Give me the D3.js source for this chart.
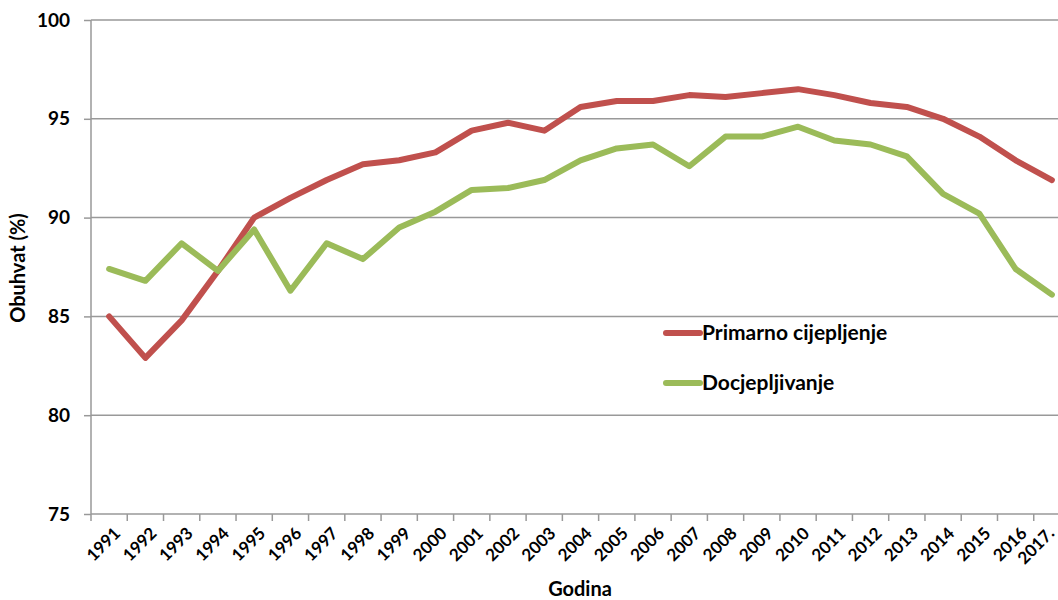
<!DOCTYPE html>
<html>
<head>
<meta charset="utf-8">
<script src="https://cdn.jsdelivr.net/npm/d3@7"></script>
<style>
body { margin: 0; background: #fff; }
text { font-family: Lato, "Open Sans", sans-serif; font-weight: bold; fill: #000; }
</style>
</head>
<body>
<div class="main"></div>
<script>
// data
var years = ["1991","1992","1993","1994","1995","1996","1997","1998","1999","2000",
  "2001","2002","2003","2004","2005","2006","2007","2008","2009","2010",
  "2011","2012","2013","2014","2015","2016","2017."];
var primarno = [85.0, 82.9, 84.8, 87.3, 90.0, 91.0, 91.9, 92.7, 92.9, 93.3,
  94.4, 94.8, 94.4, 95.6, 95.9, 95.9, 96.2, 96.1, 96.3, 96.5,
  96.2, 95.8, 95.6, 95.0, 94.1, 92.9, 91.9];
var docjep = [87.4, 86.8, 88.7, 87.3, 89.4, 86.3, 88.7, 87.9, 89.5, 90.3,
  91.4, 91.5, 91.9, 92.9, 93.5, 93.7, 92.6, 94.1, 94.1, 94.6,
  93.9, 93.7, 93.1, 91.2, 90.2, 87.4, 86.1];
var yTicks = [75, 80, 85, 90, 95, 100];
var seriesNames = ["Primarno cijepljenje", "Docjepljivanje"];
var colors = ["#C0504D", "#9BBB59"];

var W = 1058, H = 600;
var plotL = 91, plotT = 20, plotB = 514, plotR = 1070;

var svg = d3.select(".main").append("svg")
  .attr("width", W)
  .attr("height", H);

var x = d3.scaleBand()
  .domain(years)
  .range([plotL, plotR]);

var y = d3.scaleLinear()
  .domain([75, 100])
  .range([plotB, plotT]);

// gridlines
svg.append("g")
  .selectAll("line")
  .data(yTicks.slice(1))
  .enter().append("line")
  .attr("x1", plotL)
  .attr("x2", plotR)
  .attr("y1", function(d) { return y(d); })
  .attr("y2", function(d) { return y(d); })
  .style("stroke", "#999")
  .style("stroke-width", 1.5);

// y axis
var yAxis = d3.axisLeft(y)
  .tickValues(yTicks)
  .tickSize(7)
  .tickPadding(14);
var gy = svg.append("g")
  .attr("transform", "translate(" + plotL + ",0)")
  .call(yAxis);
gy.selectAll("line, path").style("stroke", "#999").style("stroke-width", 1.5);
gy.select(".domain").attr("d", "M0," + plotT + "V" + plotB);
gy.selectAll("text").style("font-size", "19px").style("font-family", "Lato, sans-serif");

// x axis
var gx = svg.append("g")
  .attr("transform", "translate(0," + plotB + ")");
gx.append("line")
  .attr("x1", plotL).attr("x2", plotR)
  .style("stroke", "#999").style("stroke-width", 1.5);
gx.selectAll(".tick")
  .data(years)
  .enter().append("line")
  .attr("x1", function(d) { return x(d); })
  .attr("x2", function(d) { return x(d); })
  .attr("y1", 0).attr("y2", 7)
  .style("stroke", "#999").style("stroke-width", 1.5);
gx.selectAll(".lbl")
  .data(years)
  .enter().append("text")
  .attr("transform", function(d) {
    var cx = Math.min(x(d) + x.bandwidth() / 2 + 4, 1047);
    return "translate(" + cx + ",12) rotate(-45)";
  })
  .attr("dy", "0.7em")
  .style("text-anchor", "end")
  .style("font-size", "17px")
  .text(function(d) { return d; });

// lines
var line = d3.line()
  .x(function(d, i) { return x(years[i]) + x.bandwidth() / 2; })
  .y(function(d) { return y(d); });

[primarno, docjep].forEach(function(s, i) {
  svg.append("path")
    .attr("d", line(s))
    .style("fill", "none")
    .style("stroke", colors[i])
    .style("stroke-width", 6)
    .style("stroke-linejoin", "round")
    .style("stroke-linecap", "round");
});

// legend
var legend = svg.append("g")
  .attr("transform", "translate(666,333)");
var li = legend.selectAll("g")
  .data(seriesNames)
  .enter().append("g")
  .attr("transform", function(d, i) { return "translate(0," + i * 50 + ")"; });
li.append("line")
  .attr("x1", 0).attr("x2", 34)
  .style("stroke", function(d, i) { return colors[i]; })
  .style("stroke-width", 6)
  .style("stroke-linecap", "round");
li.append("text")
  .attr("x", 36)
  .attr("dy", "0.35em")
  .style("font-size", "21px")
  .text(function(d) { return d; });

// axis titles
svg.append("text")
  .attr("transform", "translate(25,268) rotate(-90)")
  .style("text-anchor", "middle")
  .style("font-size", "20px")
  .text("Obuhvat (%)");

svg.append("text")
  .attr("x", 580)
  .attr("y", 596)
  .style("text-anchor", "middle")
  .style("font-size", "20px")
  .text("Godina");
</script>
</body>
</html>
